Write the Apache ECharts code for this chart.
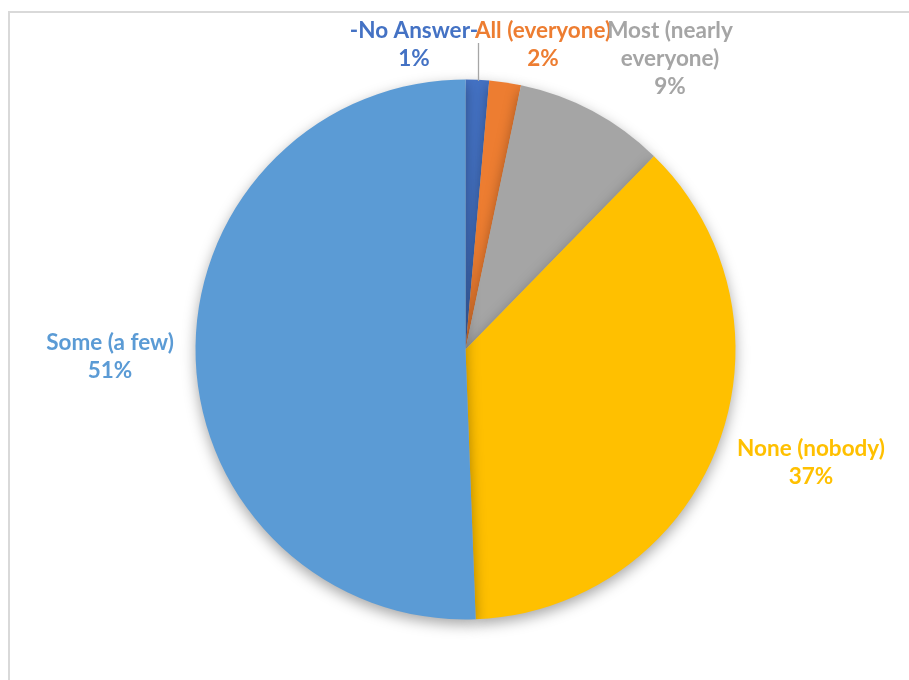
<!DOCTYPE html>
<html>
<head>
<meta charset="utf-8">
<script src="https://cdn.jsdelivr.net/npm/echarts@6/dist/echarts.min.js"></script>
<style>
  html, body { margin: 0; padding: 0; background: #fff; }
  #chart { width: 909px; height: 680px; }
</style>
</head>
<body>
<div id="chart"></div>
<script>
// Answer categories, clockwise from 12 o'clock
const categories = ["-No Answer-", "All (everyone)", "Most (nearly everyone)", "None (nobody)", "Some (a few)"];
// Share of responses (percent)
const values = [1.4, 1.9, 9.0, 37.1, 50.6];
// Slice colours
const colors = ["#4472C4", "#ED7D31", "#A5A5A5", "#FFC000", "#5B9BD5"];
// How each category name wraps in its label
const labelNames = ["-No Answer-", "All (everyone)", "Most (nearly\neveryone)", "None (nobody)", "Some (a few)"];
// Label block centres
const labelSpots = [[414, 45], [543, 45], [670, 59], [811, 463], [110, 357]];

const chart = echarts.init(document.getElementById('chart'), null, { renderer: 'canvas' });

chart.setOption({
  animation: false,
  backgroundColor: '#ffffff',
  graphic: [
    {
      type: 'rect',
      shape: { x: 9, y: 12, width: 1000, height: 800 },
      style: { fill: 'none', stroke: '#d9d9d9', lineWidth: 2 },
      silent: true
    },
    {
      type: 'line',
      shape: { x1: 478.5, y1: 43, x2: 478.5, y2: 81 },
      style: { stroke: '#a6a6a6', lineWidth: 1.3 },
      silent: true,
      z: 10
    }
  ],
  series: [{
    type: 'pie',
    center: [465.5, 349.5],
    radius: 270,
    startAngle: 90,
    clockwise: true,
    percentPrecision: 0,
    avoidLabelOverlap: false,
    data: categories.map((c, i) => ({
      name: c,
      value: values[i],
      itemStyle: { color: colors[i] },
      label: { color: colors[i] }
    })),
    itemStyle: {
      borderWidth: 0,
      shadowBlur: 14,
      shadowOffsetY: 5,
      shadowColor: 'rgba(0,0,0,0.35)'
    },
    label: {
      show: true,
      position: 'outside',
      fontFamily: 'Lato, "Open Sans", sans-serif',
      fontWeight: 'bold',
      fontSize: 22.5,
      lineHeight: 28,
      align: 'center',
      formatter: p => labelNames[p.dataIndex] + '\n' + p.percent + '%'
    },
    labelLine: { show: false },
    labelLayout: p => ({
      x: labelSpots[p.dataIndex][0],
      y: labelSpots[p.dataIndex][1],
      align: 'center',
      verticalAlign: 'middle'
    }),
    emphasis: { disabled: true }
  }]
});
</script>
</body>
</html>
